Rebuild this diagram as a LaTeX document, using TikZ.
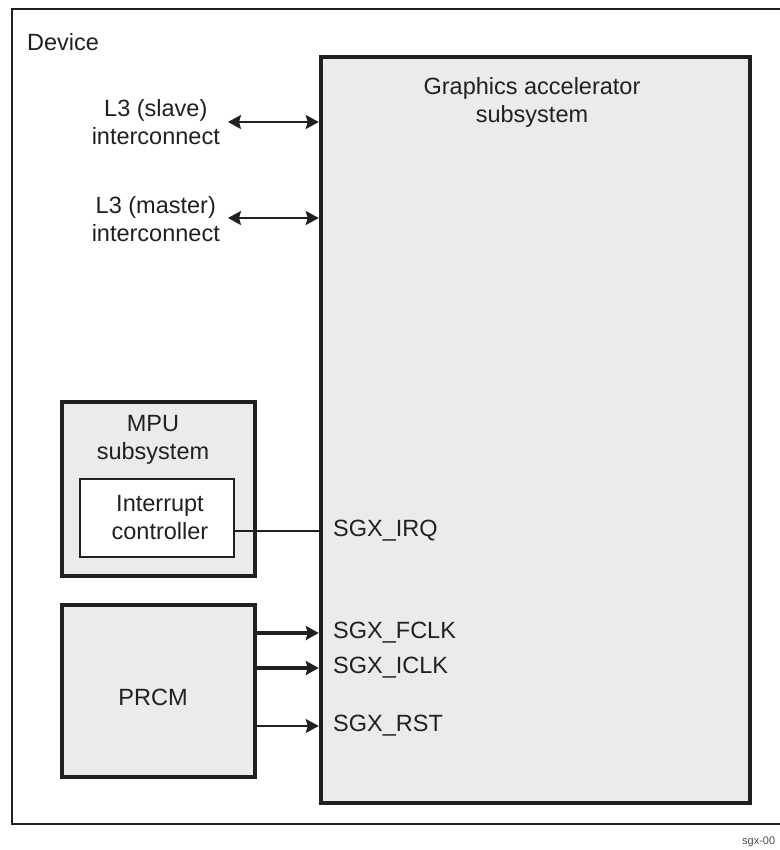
\documentclass[tikz,border=0pt]{standalone}
\usepackage{fontspec}
\setmainfont{Liberation Sans}
\usetikzlibrary{arrows.meta}
\definecolor{ink}{HTML}{231F20}
\definecolor{boxgray}{HTML}{EBEBEB}
\begin{document}
\begin{tikzpicture}[x=1pt,y=-1pt,
  every node/.style={font=\fontsize{23.5}{28}\selectfont, text=ink, inner sep=0pt},
  blk/.style={draw=ink, fill=boxgray, line width=4.5pt, minimum width=#1},
  inner/.style={draw=ink, fill=white, line width=1.5pt},
  lbl/.style={align=center},
  tip/.style={-{Stealth[length=13pt,width=14pt,inset=2pt]}},
  bus/.style={{Stealth[length=13pt,width=14pt,inset=2pt]}-{Stealth[length=13pt,width=14pt,inset=2pt]}, draw=ink, line width=2pt},
  clk/.style={tip, draw=ink, line width=3.5pt},
  sig/.style={tip, draw=ink, line width=1.5pt},
  wire/.style={draw=ink, line width=1.5pt}]
\useasboundingbox (0,0) rectangle (779,850);
% device outline
\node[draw=ink, line width=2pt, minimum width=769pt, minimum height=815pt] (device) at (396.5,416.5) {};
\node[anchor=west] (devlbl) at (27,42) {Device};
% graphics accelerator
\node[blk=429pt, minimum height=746pt] (gfx) at (535.5,430) {};
\node[lbl] (gfxlbl) at (532,102) {Graphics accelerator\\subsystem};
% L3 labels
\node[lbl, anchor=east] (l3s) at (220,122) {L3 (slave)\\interconnect};
\node[lbl, anchor=east] (l3m) at (220,219) {L3 (master)\\interconnect};
\coordinate (l3sa) at (228,122);
\coordinate (l3ma) at (228,218);
\draw[bus] (l3sa) -- (l3sa -| gfx.west);
\draw[bus] (l3ma) -- (l3ma -| gfx.west);
% MPU
\node[blk=193pt, minimum height=174pt] (mpu) at (158.5,489) {};
\node[lbl] (mpulbl) at (153,440) {MPU\\subsystem};
\node[inner, minimum width=154pt, minimum height=78pt] (intc) at (157,518) {};
\node[lbl] (intclbl) at (160,518) {Interrupt\\controller};
% signals
\node[anchor=west] (irq) at (333,531) {SGX\_IRQ};
\draw[wire] (intc.east |- irq.west) -- (gfx.west |- irq.west);
% PRCM
\node[blk=193pt, minimum height=172pt] (prcm) at (158.5,691) {};
\node (prcmlbl) at (153,697) {PRCM};
\node[anchor=west] (fclk) at (333,633) {SGX\_FCLK};
\node[anchor=west] (iclk) at (333,668) {SGX\_ICLK};
\node[anchor=west] (rst) at (333,726) {SGX\_RST};
\draw[clk] (prcm.east |- fclk.west) -- (gfx.west |- fclk.west);
\draw[clk] (prcm.east |- iclk.west) -- (gfx.west |- iclk.west);
\draw[sig] (prcm.east |- rst.west) -- (gfx.west |- rst.west);
% figure id
\node[anchor=west, font=\fontsize{11}{13}\selectfont, text=ink!80] (figid) at (742,842) {sgx-00};
\end{tikzpicture}
\end{document}
